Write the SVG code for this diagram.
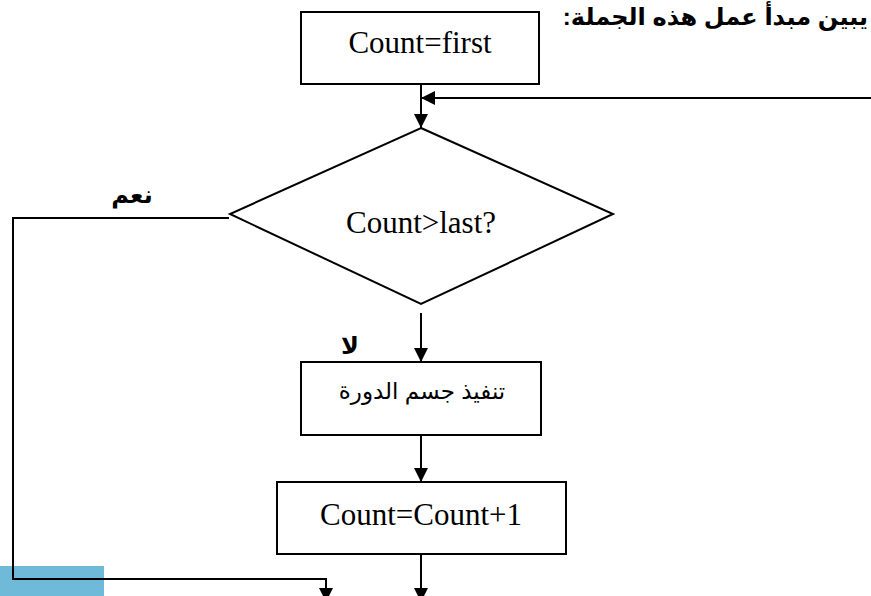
<svg xmlns="http://www.w3.org/2000/svg" width="871" height="596" viewBox="0 0 871 596">
  <style>
    .box { fill: #ffffff; stroke: #000000; stroke-width: 2; }
    .ln { fill: none; stroke: #000000; stroke-width: 2; }
    .en { font-family: "Liberation Serif", "Times New Roman", serif; font-size: 31px; fill: #000000; }
    .ar { font-family: "Liberation Sans", "DejaVu Sans", sans-serif; fill: #000000; }
    .lbl { font-family: "Liberation Sans", "DejaVu Sans", sans-serif; font-weight: bold; font-size: 24px; fill: #000000; }
  </style>
  <defs>
    <marker id="arrow" viewBox="0 0 14 14" refX="14" refY="7" markerWidth="14" markerHeight="14" markerUnits="userSpaceOnUse" orient="auto">
      <path d="M0,0 L14,7 L0,14 Z" fill="#000000"/>
    </marker>
  </defs>

  <rect width="871" height="596" fill="#ffffff"/>
  <rect x="0" y="566" width="104" height="30" fill="#6fb9d9"/>

  <text class="lbl" x="868" y="25" direction="rtl" text-anchor="start">يبين مبدأ عمل هذه الجملة:</text>

  <g id="init">
    <rect class="box" x="301" y="12" width="238" height="72"/>
    <text class="en" x="420" y="53" text-anchor="middle">Count=first</text>
  </g>

  <g id="test">
    <polygon class="box" points="421,128 613,214 421,304 230,214"/>
    <text class="en" x="421" y="233" text-anchor="middle">Count&gt;last?</text>
  </g>

  <g id="body">
    <rect class="box" x="301" y="362" width="240" height="73"/>
    <text class="ar" x="422" y="399" font-size="23" text-anchor="middle" direction="rtl">تنفيذ جسم الدورة</text>
  </g>

  <g id="step">
    <rect class="box" x="277" y="482" width="289" height="72"/>
    <text class="en" x="421" y="525" text-anchor="middle">Count=Count+1</text>
  </g>

  <g id="connectors">
    <line class="ln" x1="421" y1="84" x2="421" y2="128" marker-end="url(#arrow)"/>
    <line class="ln" x1="871" y1="98" x2="421" y2="98" marker-end="url(#arrow)"/>
    <line class="ln" x1="421" y1="313" x2="421" y2="362" marker-end="url(#arrow)"/>
    <line class="ln" x1="421" y1="435" x2="421" y2="482" marker-end="url(#arrow)"/>
    <line class="ln" x1="421" y1="554" x2="421" y2="602" marker-end="url(#arrow)"/>
    <polyline class="ln" points="229,218 13,218 13,579 326,579 326,602" marker-end="url(#arrow)"/>
    <text class="lbl" x="132" y="203" text-anchor="middle" direction="rtl">نعم</text>
    <text class="lbl" x="350" y="354" text-anchor="middle" direction="rtl">لا</text>
  </g>
</svg>
